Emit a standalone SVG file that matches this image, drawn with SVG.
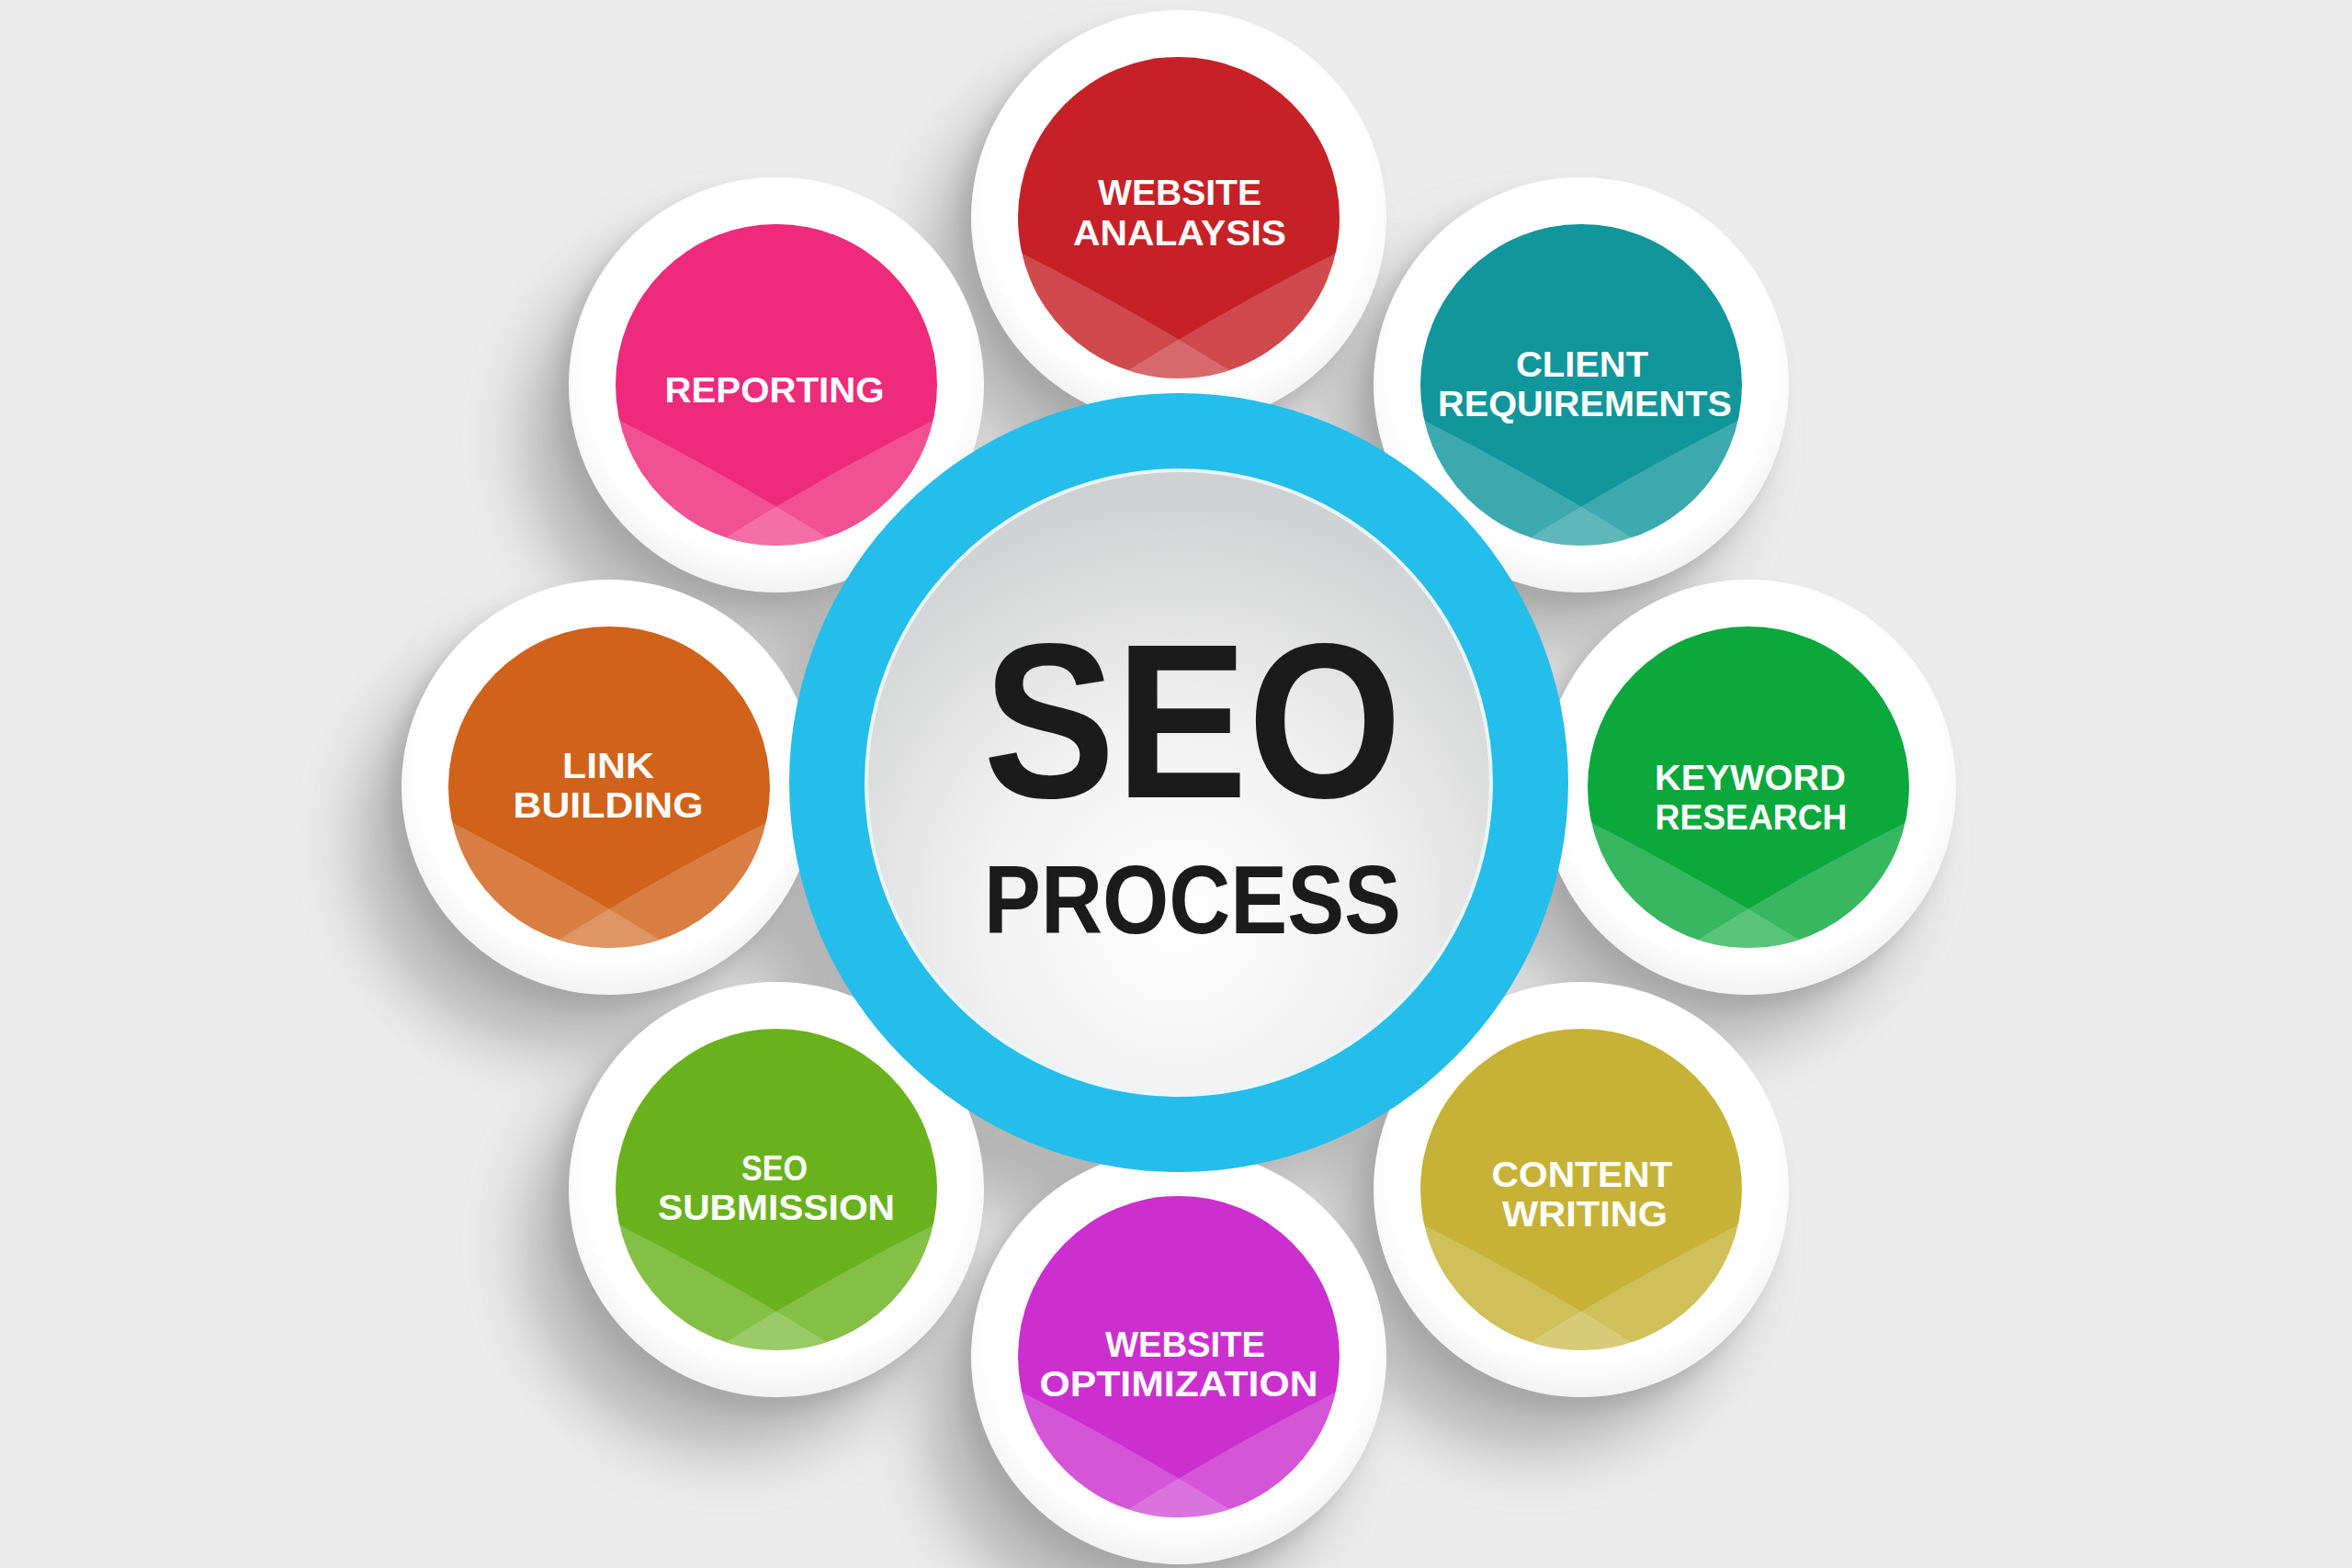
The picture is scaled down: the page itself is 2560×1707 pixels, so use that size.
<svg xmlns="http://www.w3.org/2000/svg" width="2560" height="1707" viewBox="0 0 2560 1707">
<defs>
<style>
.lbl{font-family:"Liberation Sans","Open Sans",sans-serif;font-weight:700;font-size:38px;fill:#ffffff;text-anchor:middle}
.title{font-family:"Liberation Sans","Open Sans",sans-serif;font-weight:700;fill:#1b1b1b;text-anchor:middle}
.hl{fill:#ffffff;opacity:0.18}
.shd{fill:#8a8a8a}
</style>
<filter id="blur" x="-50%" y="-50%" width="200%" height="200%"><feGaussianBlur stdDeviation="32"/></filter>
<filter id="blur2" x="-50%" y="-50%" width="200%" height="200%"><feGaussianBlur stdDeviation="10"/></filter>
<radialGradient id="core" cx="50%" cy="72%" r="70%">
<stop offset="0" stop-color="#ffffff"/>
<stop offset="0.45" stop-color="#f1f1f1"/>
<stop offset="1" stop-color="#cfd0d1"/>
</radialGradient>
<radialGradient id="rimg" cx="50%" cy="45%" r="55%">
<stop offset="0.85" stop-color="#ffffff"/>
<stop offset="1" stop-color="#f2f2f2"/>
</radialGradient>
<clipPath id="cc"><circle cx="0" cy="0" r="175"/></clipPath>
<g id="wave">
<path class="hl" d="M-200,24 Q0,122 200,262 L200,300 L-200,300 Z"/>
<path class="hl" d="M200,24 Q0,122 -200,262 L-200,300 L200,300 Z"/>
</g>
<circle id="disk" cx="0" cy="0" r="226" fill="url(#rimg)"/>
</defs>

<rect x="0" y="0" width="2560" height="1707" fill="#ebebeb"/>

<g id="shadows" filter="url(#blur)" opacity="0.55">
<circle class="shd" cx="1233" cy="297" r="226"/>
<circle class="shd" cx="1671" cy="479" r="226"/>
<circle class="shd" cx="1853" cy="917" r="226"/>
<circle class="shd" cx="1671" cy="1355" r="226"/>
<circle class="shd" cx="1233" cy="1537" r="226"/>
<circle class="shd" cx="795" cy="1355" r="226"/>
<circle class="shd" cx="613" cy="917" r="226"/>
<circle class="shd" cx="795" cy="479" r="226"/>
<circle class="shd" cx="1223" cy="912" r="424"/>
</g>
<g id="shadows-near" filter="url(#blur2)" opacity="0.35">
<circle class="shd" cx="1271" cy="251" r="226"/>
<circle class="shd" cx="1709" cy="433" r="226"/>
<circle class="shd" cx="1891" cy="871" r="226"/>
<circle class="shd" cx="1709" cy="1309" r="226"/>
<circle class="shd" cx="1271" cy="1491" r="226"/>
<circle class="shd" cx="833" cy="1309" r="226"/>
<circle class="shd" cx="651" cy="871" r="226"/>
<circle class="shd" cx="833" cy="433" r="226"/>
</g>

<g id="connectors"></g>

<g id="node-website-analaysis" transform="translate(1283,237)">
<use href="#disk"/>
<circle r="175" fill="#c62127"/>
<g clip-path="url(#cc)"><use href="#wave"/></g>
<text class="lbl"><tspan x="1" y="-14" textLength="178" lengthAdjust="spacingAndGlyphs">WEBSITE</tspan><tspan x="1" y="30" textLength="232" lengthAdjust="spacingAndGlyphs">ANALAYSIS</tspan></text>
</g>

<g id="node-client-requirements" transform="translate(1721,419)">
<use href="#disk"/>
<circle r="175" fill="#11969b"/>
<g clip-path="url(#cc)"><use href="#wave"/></g>
<text class="lbl"><tspan x="1" y="-9" textLength="144" lengthAdjust="spacingAndGlyphs">CLIENT</tspan><tspan x="4" y="34" textLength="320" lengthAdjust="spacingAndGlyphs">REQUIREMENTS</tspan></text>
</g>

<g id="node-keyword-research" transform="translate(1903,857)">
<use href="#disk"/>
<circle r="175" fill="#0ba83c"/>
<g clip-path="url(#cc)"><use href="#wave"/></g>
<text class="lbl"><tspan x="2" y="3" textLength="208" lengthAdjust="spacingAndGlyphs">KEYWORD</tspan><tspan x="3" y="46" textLength="209" lengthAdjust="spacingAndGlyphs">RESEARCH</tspan></text>
</g>

<g id="node-content-writing" transform="translate(1721,1295)">
<use href="#disk"/>
<circle r="175" fill="#c6b236"/>
<g clip-path="url(#cc)"><use href="#wave"/></g>
<text class="lbl"><tspan x="1" y="-3" textLength="197" lengthAdjust="spacingAndGlyphs">CONTENT</tspan><tspan x="4" y="40" textLength="180" lengthAdjust="spacingAndGlyphs">WRITING</tspan></text>
</g>

<g id="node-website-optimization" transform="translate(1283,1477)">
<use href="#disk"/>
<circle r="175" fill="#cb30cf"/>
<g clip-path="url(#cc)"><use href="#wave"/></g>
<text class="lbl"><tspan x="7" y="0" textLength="174" lengthAdjust="spacingAndGlyphs">WEBSITE</tspan><tspan x="0" y="43" textLength="303" lengthAdjust="spacingAndGlyphs">OPTIMIZATION</tspan></text>
</g>

<g id="node-seo-submission" transform="translate(845,1295)">
<use href="#disk"/>
<circle r="175" fill="#69b21d"/>
<g clip-path="url(#cc)"><use href="#wave"/></g>
<text class="lbl"><tspan x="-2" y="-10" textLength="72" lengthAdjust="spacingAndGlyphs">SEO</tspan><tspan x="0" y="33" textLength="258" lengthAdjust="spacingAndGlyphs">SUBMISSION</tspan></text>
</g>

<g id="node-link-building" transform="translate(663,857)">
<use href="#disk"/>
<circle r="175" fill="#d0621a"/>
<g clip-path="url(#cc)"><use href="#wave"/></g>
<text class="lbl"><tspan x="-1" y="-10" textLength="100" lengthAdjust="spacingAndGlyphs">LINK</tspan><tspan x="-1" y="33" textLength="207" lengthAdjust="spacingAndGlyphs">BUILDING</tspan></text>
</g>

<g id="node-reporting" transform="translate(845,419)">
<use href="#disk"/>
<circle r="175" fill="#ee2a7b"/>
<g clip-path="url(#cc)"><use href="#wave"/></g>
<text class="lbl" x="-2" y="19" textLength="239" lengthAdjust="spacingAndGlyphs">REPORTING</text>
</g>

<g id="node-seo-process">
<circle cx="1283" cy="852" r="424" fill="#25bdea"/>
<circle cx="1283" cy="852" r="340" fill="url(#core)" stroke="#e9f7fc" stroke-width="4"/>
<text class="title"><tspan x="1298" y="868" font-size="240" textLength="456" lengthAdjust="spacingAndGlyphs">SEO</tspan><tspan x="1298" y="1016" font-size="106" textLength="454" lengthAdjust="spacingAndGlyphs">PROCESS</tspan></text>
</g>
</svg>
